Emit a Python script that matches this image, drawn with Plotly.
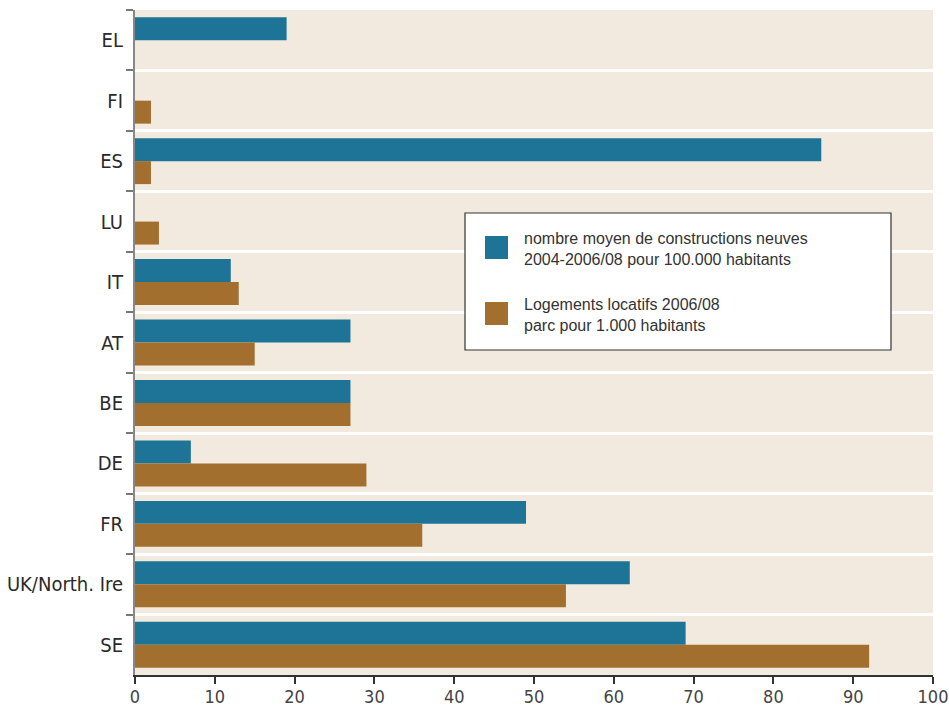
import plotly.graph_objects as go

categories = ["EL", "FI", "ES", "LU", "IT", "AT", "BE", "DE", "FR", "UK/North. Ire", "SE"]
constructions = [19, None, 86, None, 12, 27, 27, 7, 49, 62, 69]
logements = [None, 2, 2, 3, 13, 15, 27, 29, 36, 54, 92]
x_ticks = list(range(0, 101, 10))

legend_labels = [
    "nombre moyen de constructions neuves<br>2004-2006/08 pour 100.000 habitants",
    "Logements locatifs 2006/08<br>parc pour 1.000 habitants",
]

BLUE = "#1D7496"
ORANGE = "#A26F2F"
BEIGE = "#F2EADF"
NARROW = "DejaVu Sans Condensed, Liberation Sans Narrow, sans-serif"

fig = go.Figure()
fig.add_trace(go.Bar(y=categories, x=constructions, orientation="h",
                     marker=dict(color=BLUE, line=dict(width=0)), showlegend=False))
fig.add_trace(go.Bar(y=categories, x=logements, orientation="h",
                     marker=dict(color=ORANGE, line=dict(width=0)), showlegend=False))

fig.update_layout(
    width=949, height=706,
    margin=dict(l=135, r=16, t=10, b=31, autoexpand=False),
    paper_bgcolor="white",
    plot_bgcolor=BEIGE,
    barmode="group",
    bargap=0.24,
    bargroupgap=0,
    xaxis=dict(
        range=[0, 100], tickvals=x_ticks, showgrid=False, zeroline=False,
        showline=True, linecolor="#333333", linewidth=1.5,
        ticks="outside", ticklen=7, tickcolor="#333333", tickwidth=1.5,
        tickfont=dict(family=NARROW, size=18, color="#444444"),
        ticklabelstandoff=-2,
        ticklabeloverflow="allow", automargin=False,
        fixedrange=True,
    ),
    yaxis=dict(
        autorange="reversed", tickson="boundaries",
        showgrid=True, gridcolor="white", gridwidth=3,
        showline=True, linecolor="#888888", linewidth=2,
        ticks="outside", ticklen=7, tickcolor="#777777", tickwidth=1.5,
        tickfont=dict(family=NARROW, size=20, color="#2a2a2a"),
        ticklabelstandoff=6, automargin=False,
        fixedrange=True,
    ),
)

# custom legend box
def px_x(px):
    return (px - 135) / 798

def px_y(py):
    return (675 - py) / 665

fig.add_shape(type="rect", xref="paper", yref="paper",
              x0=px_x(465), x1=px_x(891), y0=px_y(350), y1=px_y(213),
              fillcolor="white", line=dict(color="#333333", width=1.2), layer="above")
for col, top, label, ymid in [(BLUE, 236, legend_labels[0], 248.5),
                              (ORANGE, 302, legend_labels[1], 314.5)]:
    fig.add_shape(type="rect", xref="paper", yref="paper",
                  x0=px_x(485), x1=px_x(508), y0=px_y(top + 23), y1=px_y(top),
                  fillcolor=col, line=dict(width=0), layer="above")
    fig.add_annotation(xref="paper", yref="paper", x=px_x(522), y=px_y(ymid),
                       xanchor="left", yanchor="middle", align="left",
                       text=label, showarrow=False,
                       font=dict(family="Liberation Sans, Arial, sans-serif", size=16, color="#333333"))

fig.write_html("out.html")
